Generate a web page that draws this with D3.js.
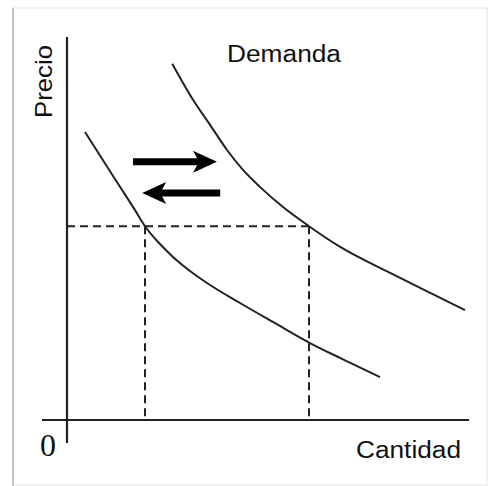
<!DOCTYPE html>
<html>
<head>
<meta charset="utf-8">
<script src="https://cdn.jsdelivr.net/npm/d3@7/dist/d3.min.js"></script>
<style>
  html, body { margin: 0; padding: 0; background: #ffffff; }
  svg { display: block; }
</style>
</head>
<body>
<svg id="chart" width="488" height="486"></svg>
<script>
// Demand curves: quantity (x) and price (y), in abstract units 0–100
const demandHighQ = [26.3, 31.5, 35.8, 40.0, 44.0, 48.3, 54.0, 60.5, 68.3, 80.8, 90.8, 99.5];
const demandHighP = [93.0, 83.6, 77.0, 70.5, 65.3, 60.8, 55.6, 50.6, 45.2, 38.4, 33.2, 28.7];
const demandLowQ  = [4.5, 9.0, 13.25, 17.0, 19.5, 23.25, 26.5, 30.75, 35.0, 43.25, 51.5, 60.75, 68.25, 78.25];
const demandLowP  = [75.2, 67.8, 60.9, 54.8, 50.6, 45.95, 42.56, 38.9, 35.77, 30.55, 25.6, 20.1, 16.2, 11.2];

// Reference price and the two quantities demanded at that price
const refPrice = 50.6;
const refQuantities = [19.5, 60.5];

// Shift arrows (quantity from -> to, at a given price level)
const arrowFrom  = [16.5, 38.3];
const arrowTo    = [37.5, 18.8];
const arrowPrice = [67.4, 59.3];

const labels = { y: "Precio", x: "Cantidad", curve: "Demanda", origin: "0" };

const svg = d3.select("#chart");
const ink = "#222";
const sans = "Liberation Sans, Arial, sans-serif";

// frame
svg.append("rect").attr("x", 13).attr("y", 8).attr("width", 474).attr("height", 477)
  .attr("fill", "#fff").attr("stroke", "#ececec").attr("stroke-width", 1.5);
svg.append("line").attr("x1", 13).attr("x2", 13).attr("y1", 8).attr("y2", 486)
  .attr("stroke", "#c4c4c4").attr("stroke-width", 2);

const x = d3.scaleLinear().domain([0, 100]).range([67, 467]);
const y = d3.scaleLinear().domain([0, 100]).range([420, 37]);

// axes (overhanging past the origin)
svg.append("line").attr("x1", x(-6.25)).attr("x2", x(100.5)).attr("y1", y(0)).attr("y2", y(0))
  .attr("stroke", ink).attr("stroke-width", 2.2);
svg.append("line").attr("x1", x(0)).attr("x2", x(0)).attr("y1", y(100)).attr("y2", y(-6))
  .attr("stroke", ink).attr("stroke-width", 2.2);

// dashed guide lines
const dash = "8,5";
svg.append("line").attr("x1", x(0)).attr("x2", x(refQuantities[1]))
  .attr("y1", y(refPrice)).attr("y2", y(refPrice))
  .attr("stroke", ink).attr("stroke-width", 2).attr("stroke-dasharray", dash);
refQuantities.forEach(q => {
  svg.append("line").attr("x1", x(q)).attr("x2", x(q))
    .attr("y1", y(refPrice)).attr("y2", y(0))
    .attr("stroke", ink).attr("stroke-width", 2).attr("stroke-dasharray", dash);
});

// curves
const line = d3.line().x(d => x(d[0])).y(d => y(d[1])).curve(d3.curveMonotoneX);
[[demandHighQ, demandHighP], [demandLowQ, demandLowP]].forEach(([qs, ps]) => {
  svg.append("path").datum(qs.map((q, i) => [q, ps[i]]))
    .attr("d", line).attr("fill", "none").attr("stroke", ink).attr("stroke-width", 2);
});

// arrows with swept-back heads
arrowFrom.forEach((q0, i) => {
  const x0 = x(q0), x1 = x(arrowTo[i]), yy = y(arrowPrice[i]);
  const dir = Math.sign(x1 - x0);
  const headLen = 24, halfW = 11, notch = 6;
  svg.append("line").attr("x1", x0).attr("x2", x1 - dir * (headLen - notch))
    .attr("y1", yy).attr("y2", yy).attr("stroke", "#000").attr("stroke-width", 7);
  const path = d3.path();
  path.moveTo(x1, yy);
  path.lineTo(x1 - dir * headLen, yy - halfW);
  path.lineTo(x1 - dir * (headLen - notch), yy);
  path.lineTo(x1 - dir * headLen, yy + halfW);
  path.closePath();
  svg.append("path").attr("d", path.toString()).attr("fill", "#000");
});

// text
svg.append("text").attr("x", 227).attr("y", 62)
  .attr("font-family", sans).attr("font-size", 23.5)
  .attr("textLength", 114).attr("lengthAdjust", "spacingAndGlyphs")
  .attr("fill", "#111").text(labels.curve);
svg.append("text").attr("x", 356).attr("y", 458)
  .attr("font-family", sans).attr("font-size", 23.5)
  .attr("textLength", 105).attr("lengthAdjust", "spacingAndGlyphs")
  .attr("fill", "#111").text(labels.x);
svg.append("text").attr("transform", "translate(52,118) rotate(-90)")
  .attr("font-family", sans).attr("font-size", 24)
  .attr("textLength", 73).attr("lengthAdjust", "spacingAndGlyphs")
  .attr("fill", "#111").text(labels.y);
svg.append("text").attr("x", 48).attr("y", 456).attr("text-anchor", "middle")
  .attr("font-family", "Liberation Serif, Times New Roman, serif").attr("font-size", 32)
  .attr("fill", "#111").text(labels.origin);
</script>
</body>
</html>
